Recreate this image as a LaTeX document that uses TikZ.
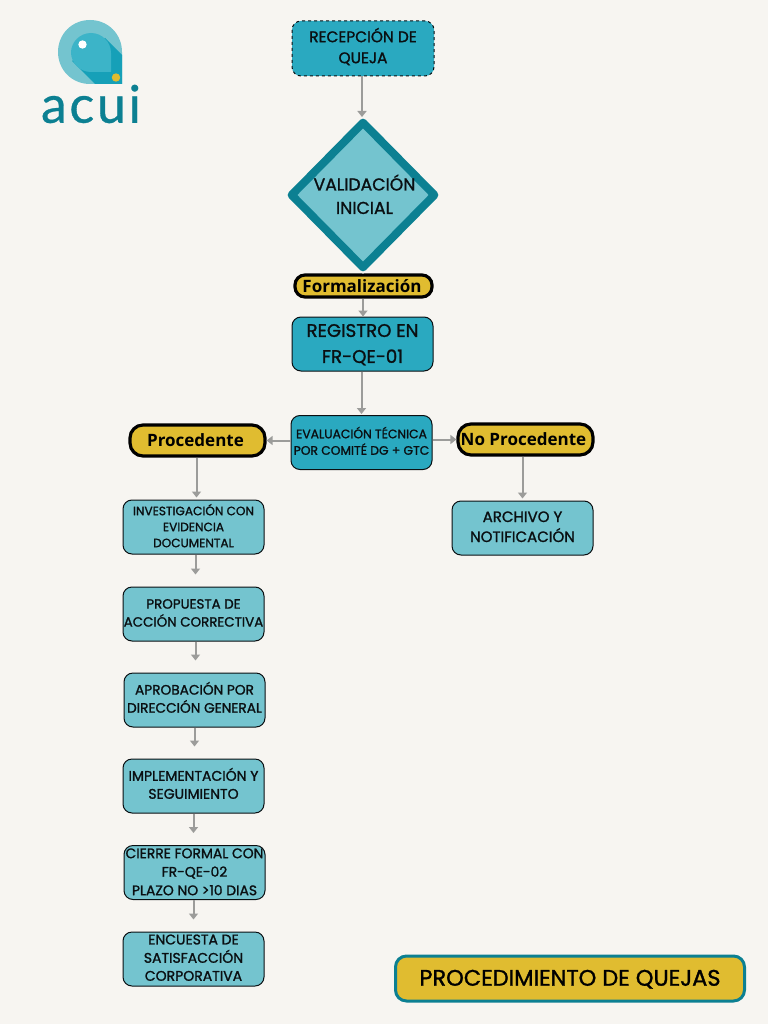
\documentclass[tikz,border=0pt]{standalone}
\usepackage{fontspec}
\setmainfont{Poppins}
\newfontfamily\popm[FakeBold=1.3]{Poppins}
\newfontfamily\opn{Open Sans}
\newfontfamily\logofont[LetterSpace=5,FakeBold=0.6]{Lato}
\usetikzlibrary{arrows.meta,shapes.geometric}
\definecolor{bgc}{HTML}{F7F5F1}
\definecolor{lightteal}{HTML}{74C4CF}
\definecolor{midteal}{HTML}{2AA9C0}
\definecolor{darkteal}{HTML}{0C8092}
\definecolor{gold}{HTML}{E0BC30}
\definecolor{ink}{HTML}{0A0F12}
\definecolor{arrowgrey}{HTML}{9C9C9A}
\definecolor{logoshade}{HTML}{16A0B8}
\definecolor{logodrop}{HTML}{3CB4C8}
\tikzset{
  x=1pt,y=-1pt,
  base/.style={rounded corners=9pt,draw=ink,line width=1pt,align=center,inner sep=0pt,text=ink,minimum width=141pt,minimum height=54pt,font=\popm},
  lightbox/.style={base,fill=lightteal},
  midbox/.style={base,fill=midteal},
  pill/.style={rounded corners=13pt,draw=black,line width=3.2pt,fill=gold,align=center,inner sep=0pt,text=black,font=\opn\bfseries},
  flow/.style={draw=arrowgrey,line width=2pt,-{Triangle[width=9pt,length=6pt]}},
}
\newcommand{\fs}[2]{\fontsize{#1}{#2}\selectfont}
\newcommand{\tl}[2][0pt]{\raisebox{#1}[\dimexpr\height-3pt\relax][\dimexpr\depth-3pt\relax]{\begin{tabular}{@{}c@{}}#2\end{tabular}}}
\begin{document}
\begin{tikzpicture}
\useasboundingbox[fill=bgc] (0,0) rectangle (768,1024);
% logo
\fill[lightteal] (90,20) .. controls (108,20) and (122,34) .. (122,52) -- (122,84) -- (90,84)
  .. controls (72,84) and (58,70) .. (58,52) .. controls (58,34) and (72,20) .. (90,20) -- cycle;
\fill[logoshade] (105,38) -- (122,55) -- (122,84) -- (95,84) -- (72,61) -- cycle;
\fill[logodrop] (91,33) .. controls (102,33) and (111,42) .. (111,53) -- (111,72) -- (91,72)
  .. controls (80,72) and (71,63) .. (71,52.5) .. controls (71,42) and (80,33) .. (91,33) -- cycle;
\fill[white] (82.5,44.5) circle[radius=4.2];
\fill[gold] (116,77.5) circle[radius=4.2];
\node[text=darkteal,inner sep=0pt,font=\logofont\fs{52}{52}] (logotext) at (91,104) {acui};
% nodes
\node[midbox,dashed,font=\popm\fs{15.4}{21},minimum width=142pt,minimum height=55pt] (recep) at (363,48.5) {\tl{RECEPCIÓN DE\\QUEJA}};
\node[diamond,draw=darkteal,line width=8pt,line join=round,fill=lightteal,minimum width=146pt,minimum height=148pt,inner sep=0pt] (valid) at (363,195) {};
\node[align=center,text=ink,font=\popm\fs{17.2}{23.5},inner sep=0pt] (validt) at (364.5,195.5) {\tl[-2pt]{VALIDACIÓN\\INICIAL}};
\node[pill,rounded corners=10pt,minimum width=137pt,minimum height=22pt,font=\opn\bfseries\fs{17}{18}] (forma) at (363.5,286) {Formalización\hspace{3pt}};
\node[midbox,font=\popm\fs{18.2}{26}] (regis) at (362.5,344) {\tl[-0.7pt]{REGISTRO EN\\FR-QE-01}};
\node[midbox,font=\popm\fs{12.3}{16.5}] (evalu) at (361.5,442.5) {\tl[-0.7pt]{EVALUACIÓN TÉCNICA\\POR COMITÉ DG + GTC}};
\node[pill,minimum width=135pt,minimum height=31pt,font=\opn\bfseries\fs{17}{18}] (proc) at (197.5,440.5) {Procedente\hspace{4pt}};
\node[pill,minimum width=135pt,minimum height=31pt,font=\opn\bfseries\fs{17}{18}] (noproc) at (525.5,439.5) {\raisebox{1pt}{No Procedente}\hspace{4pt}};
\node[lightbox,font=\popm\fs{12.1}{16}] (inves) at (193.5,527) {\tl[-1pt]{INVESTIGACIÓN CON\\EVIDENCIA\\DOCUMENTAL}};
\node[lightbox,font=\popm\fs{15}{20}] (archi) at (522.5,528) {\tl{ARCHIVO Y\\NOTIFICACIÓN}};
\node[lightbox,font=\popm\fs{13.4}{18}] (propu) at (193.5,614) {\tl{PROPUESTA DE\\ACCIÓN CORRECTIVA}};
\node[lightbox,font=\popm\fs{13.7}{18}] (aprob) at (194.5,700) {\tl{APROBACIÓN POR\\DIRECCIÓN GENERAL}};
\node[lightbox,font=\popm\fs{14}{18}] (imple) at (193.5,786) {\tl{IMPLEMENTACIÓN Y\\SEGUIMIENTO}};
\node[lightbox,font=\popm\fs{13.9}{18.5}] (cierr) at (194.5,872.5) {\tl[-0.5pt]{CIERRE FORMAL CON\\FR-QE-02\\PLAZO NO >10 DIAS}};
\node[lightbox,font=\popm\fs{14}{18}] (encue) at (193.5,959) {\tl{ENCUESTA DE\\SATISFACCIÓN\\CORPORATIVA}};
\node[rounded corners=11pt,draw=darkteal,line width=3pt,fill=gold,text=black,inner sep=0pt,minimum width=349pt,minimum height=45pt,font=\popm\fs{22.5}{26}] (title) at (570,978.5) {\tl[-2pt]{PROCEDIMIENTO DE QUEJAS}};
% connectors
\draw[flow] ([xshift=-1pt]recep.south) -- ([xshift=-1pt]valid.north);
\draw[draw=arrowgrey,line width=2pt] (valid.south) -- (forma.north -| valid.south);
\draw[flow] (forma.south -| valid.south) -- (regis.north -| valid.south);
\draw[flow] (regis.south -| evalu.north) -- ([yshift=1pt]evalu.north);
\draw[flow] (evalu.west |- proc.east) -- (proc.east);
\draw[flow] (evalu.east |- noproc.west) -- (noproc.west);
\draw[flow] ([xshift=-1pt]proc.south) -- ([xshift=-1pt,yshift=2pt]inves.north -| proc.south);
\draw[flow] ([xshift=-3pt]noproc.south) -- ([xshift=-3pt,yshift=2pt]archi.north -| noproc.south);
\draw[flow] ([xshift=2pt]inves.south) -- ([xshift=2pt,yshift=12pt]propu.north);
\draw[flow] ([xshift=2pt]propu.south) -- ([xshift=2pt,yshift=12pt]aprob.north -| propu.south);
\draw[flow] (aprob.south) -- ([yshift=12pt]imple.north -| aprob.south);
\draw[flow] (imple.south) -- ([yshift=12pt]cierr.north -| imple.south);
\draw[flow] ([xshift=-1pt]cierr.south) -- ([xshift=-1pt,yshift=12pt]encue.north -| cierr.south);
\end{tikzpicture}
\end{document}
